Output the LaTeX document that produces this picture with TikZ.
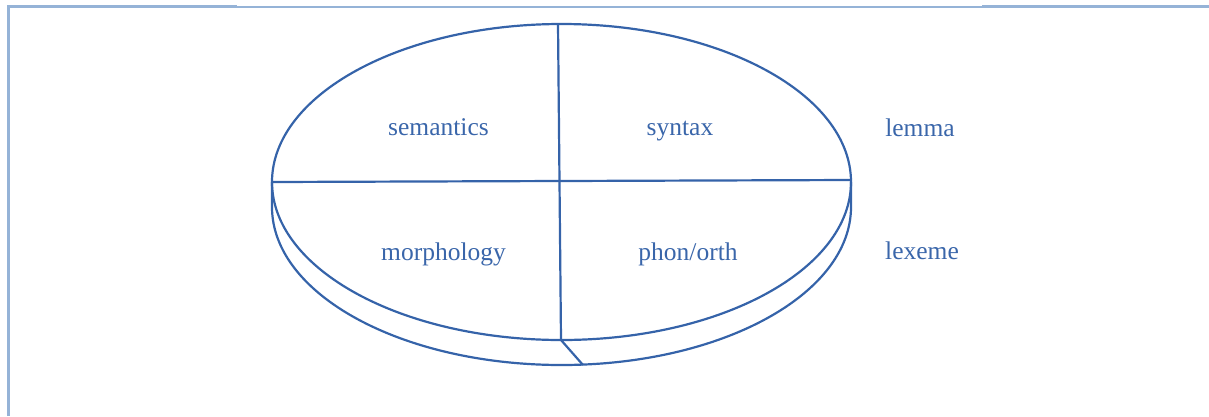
\documentclass[tikz,border=0pt]{standalone}
\usepackage{fontspec}
\setmainfont{Liberation Serif}
\definecolor{framecol}{HTML}{95B3D7}
\definecolor{inkcol}{HTML}{3563A9}
\definecolor{txtcol}{HTML}{3A66AA}
\begin{document}
\begin{tikzpicture}[x=1pt,y=-1pt,
  ink/.style={draw=inkcol, line width=2.2pt},
  lbl/.style={text=txtcol, font=\fontsize{25.5}{28}\selectfont, anchor=base, inner sep=0pt}]
\useasboundingbox (0,0) rectangle (1209,416);
% frame
\draw[framecol, line width=3pt] (8.5,416) -- (8.5,6) -- (237,6);
\draw[framecol, line width=2pt] (237,6.5) -- (982,6.5);
\draw[framecol, line width=3pt] (982,6) -- (1209,6);
% coordinates
\coordinate (W) at (272,182);
\coordinate (E) at (851,180);
\coordinate (N) at (558,24);
\coordinate (S) at (561,340);
\coordinate (SB) at (583,365);
% top ellipse
\draw[ink] (561.5,182) ellipse [x radius=289.5, y radius=158];
% lower rim
\draw[ink] (272,182) -- (272,207) arc[start angle=180, end angle=0, x radius=289.5, y radius=158] -- (851,182);
% dividers
\draw[ink] (W) -- (E);
\draw[ink] (N) -- (S);
\draw[ink] (S) -- (SB);
% labels
\node[lbl] (sem) at (438.5,135) {semantics};
\node[lbl] (syn) at (680,135) {syntax};
\node[lbl] (lem) at (920,136) {lemma};
\node[lbl] (mor) at (443.5,260) {morphology};
\node[lbl] (pho) at (688,260) {phon/orth};
\node[lbl] (lex) at (922,259) {lexeme};
\end{tikzpicture}
\end{document}
